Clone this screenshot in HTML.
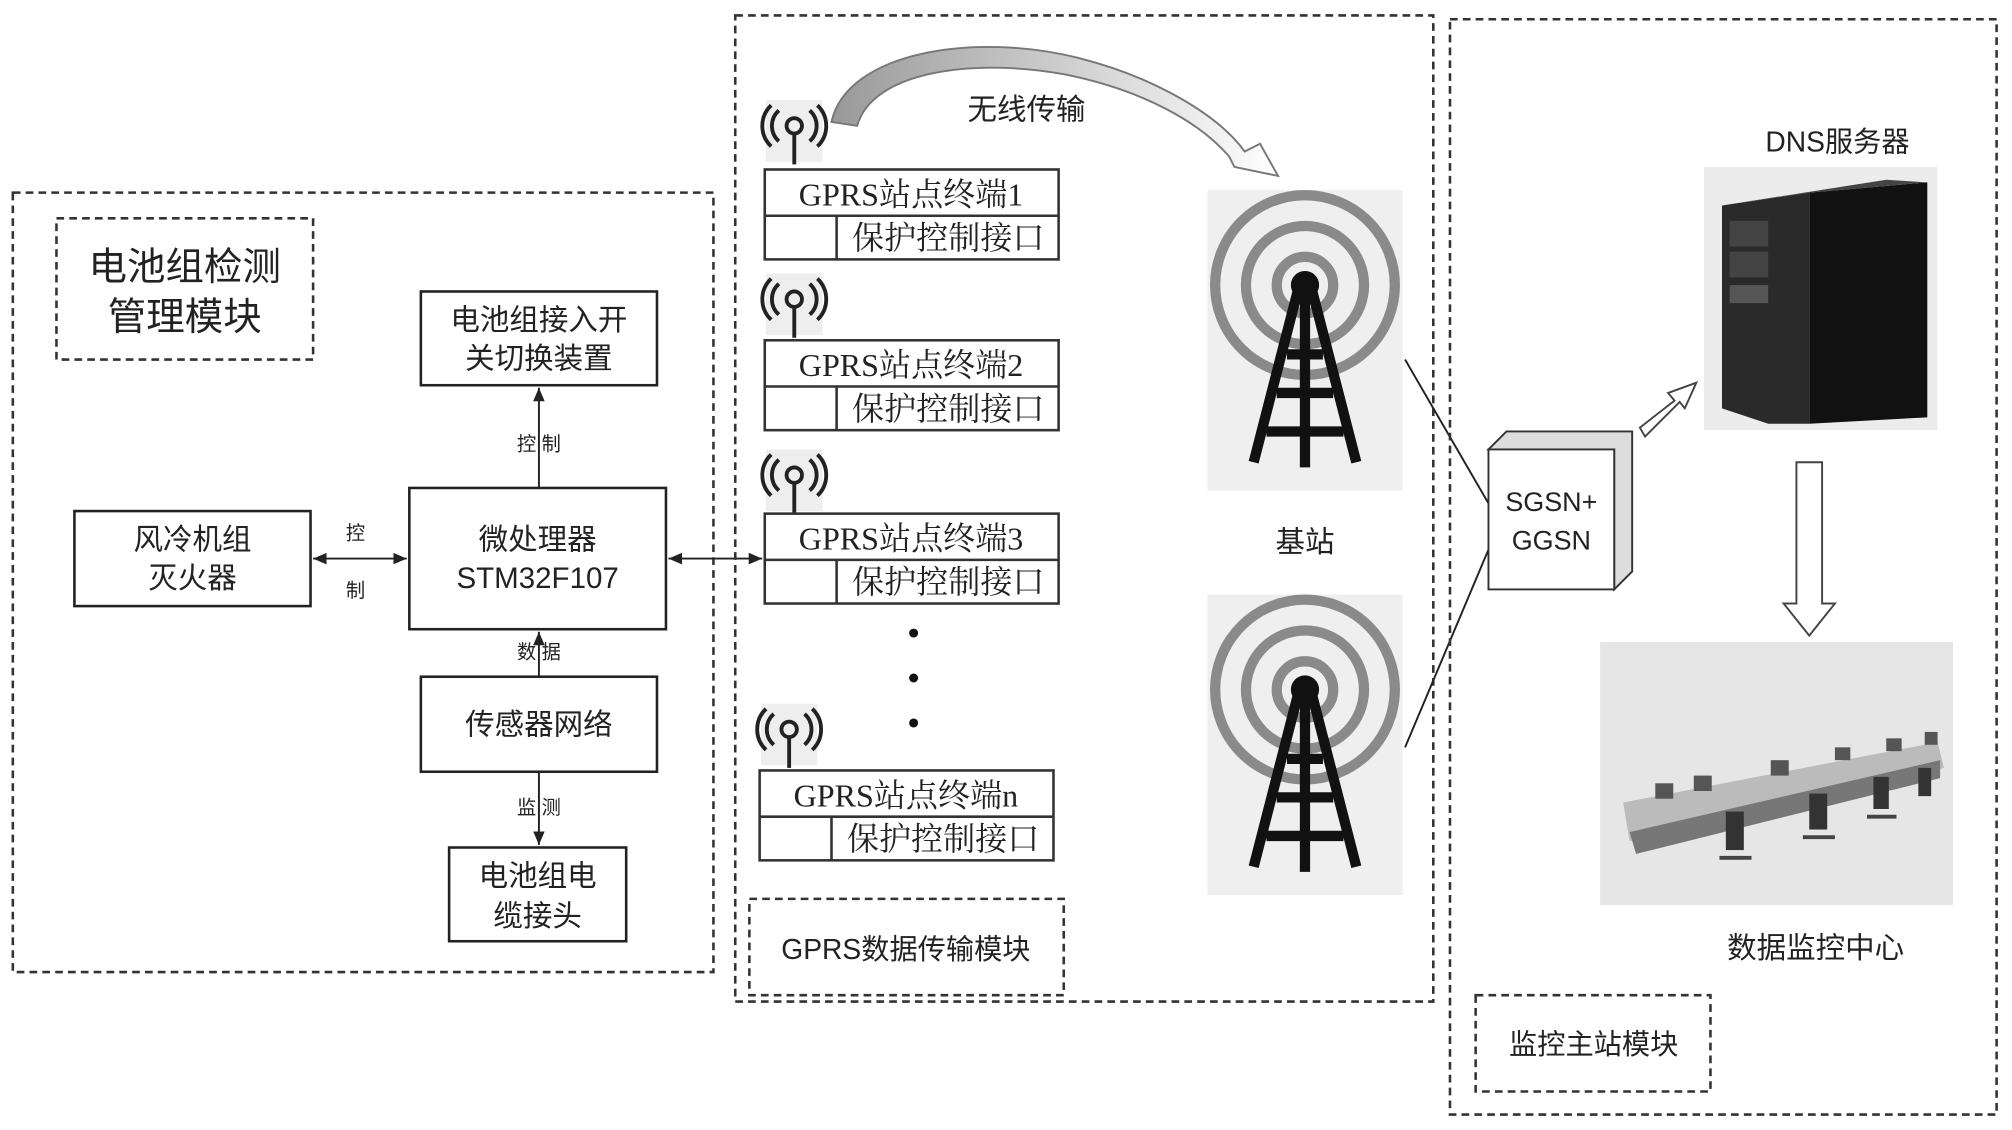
<!DOCTYPE html>
<html><head><meta charset="utf-8"><style>
html,body{margin:0;padding:0;background:#fff;}
svg{display:block;}
text{font-family:"Liberation Sans","Noto Sans CJK SC",sans-serif;fill:#222;}
.s{font-family:"Liberation Serif","Noto Serif CJK SC",serif;}
</style></head><body>
<svg width="2012" height="1130" viewBox="0 0 1568 880" preserveAspectRatio="none" xmlns="http://www.w3.org/2000/svg">
<defs>
<marker id="a" markerWidth="8" markerHeight="8" refX="7" refY="4" orient="auto-start-reverse"><path d="M0,1 L7,4 L0,7 z" fill="#222"/></marker>
<linearGradient id="g" x1="0" y1="0" x2="1" y2="0"><stop offset="0" stop-color="#999"/><stop offset="1" stop-color="#fff"/></linearGradient>
<g id="ant"><rect x="-22" y="-22" width="44" height="48" fill="#eee"/><path d="M-12,-14 a16,16 0 0,0 0,24 M-18,-18 a22,22 0 0,0 0,32 M12,-14 a16,16 0 0,1 0,24 M18,-18 a22,22 0 0,1 0,32" stroke="#222" stroke-width="3" fill="none"/><circle cx="0" cy="-2" r="6" fill="none" stroke="#222" stroke-width="3"/><line x1="0" y1="4" x2="0" y2="28" stroke="#222" stroke-width="3"/></g>
<g id="tower"><rect x="0" y="0" width="152" height="234" fill="#efefef"/>
<g fill="none" stroke="#8a8a8a" stroke-width="8"><circle cx="76" cy="74" r="22"/><circle cx="76" cy="74" r="46"/><circle cx="76" cy="74" r="70"/></g>
<circle cx="76" cy="74" r="11" fill="#111"/>
<g stroke="#111" stroke-width="8" fill="none"><path d="M70,80 L36,212 M82,80 L116,212 M76,80 L76,216"/><path d="M62,128 H90 M54,158 H98 M46,188 H106"/></g></g>
</defs>
<rect x="10" y="150" width="546" height="607" fill="none" stroke="#333" stroke-width="2" stroke-dasharray="6,4"/>
<rect x="44" y="170" width="200" height="110" fill="none" stroke="#333" stroke-width="2" stroke-dasharray="6,4"/>
<text x="144" y="218" font-size="30" text-anchor="middle">电池组检测</text>
<text x="144" y="257" font-size="30" text-anchor="middle">管理模块</text>
<g fill="#fff" stroke="#222" stroke-width="2">
<rect x="328" y="227" width="184" height="73"/><rect x="319" y="380" width="200" height="110"/>
<rect x="58" y="398" width="184" height="74"/><rect x="328" y="527" width="184" height="74"/>
<rect x="350" y="660" width="138" height="73"/></g>
<g font-size="23" text-anchor="middle">
<text x="420" y="257">电池组接入开</text><text x="420" y="287">关切换装置</text>
<text x="419" y="428">微处理器</text><text x="419" y="458">STM32F107</text>
<text x="150" y="428">风冷机组</text><text x="150" y="458">灭火器</text>
<text x="420" y="572">传感器网络</text>
<text x="419" y="690">电池组电</text><text x="419" y="721">缆接头</text></g>
<g stroke="#222" stroke-width="1.5">
<line x1="420" y1="380" x2="420" y2="302" marker-end="url(#a)"/>
<line x1="420" y1="527" x2="420" y2="492" marker-end="url(#a)"/>
<line x1="420" y1="601" x2="420" y2="658" marker-end="url(#a)"/>
<line x1="244" y1="435" x2="317" y2="435" marker-start="url(#a)" marker-end="url(#a)"/>
<line x1="521" y1="435" x2="594" y2="435" marker-start="url(#a)" marker-end="url(#a)"/></g>
<g font-size="15" text-anchor="middle"><text x="420" y="351">控 制</text><text x="420" y="513">数 据</text><text x="420" y="634">监 测</text><text x="277" y="420">控</text><text x="277" y="465">制</text></g>
<rect x="573" y="12" width="544" height="768" fill="none" stroke="#333" stroke-width="2" stroke-dasharray="6,4"/>
<path d="M648,95 C660,40 760,25 840,45 C900,60 950,90 970,118 L982,112 L996,137 L962,130 L958,122 C935,95 890,70 830,58 C760,45 680,55 668,98 Z" fill="url(#g)" stroke="#777" stroke-width="1.5"/>
<text x="800" y="93" font-size="23" text-anchor="middle">无线传输</text>
<use href="#ant" x="619" y="100"/><use href="#ant" x="619" y="235"/><use href="#ant" x="619" y="372"/><use href="#ant" x="615" y="570"/>
<g fill="none" stroke="#333" stroke-width="2">
<rect x="596" y="132" width="229" height="70"/><line x1="596" y1="168" x2="825" y2="168"/><line x1="652" y1="168" x2="652" y2="202"/>
<rect x="596" y="265" width="229" height="70"/><line x1="596" y1="301" x2="825" y2="301"/><line x1="652" y1="301" x2="652" y2="335"/>
<rect x="596" y="400" width="229" height="70"/><line x1="596" y1="436" x2="825" y2="436"/><line x1="652" y1="436" x2="652" y2="470"/>
<rect x="592" y="600" width="229" height="70"/><line x1="592" y1="636" x2="821" y2="636"/><line x1="648" y1="636" x2="648" y2="670"/></g>
<g font-size="25" text-anchor="middle">
<text class="s" x="710" y="160">GPRS站点终端1</text><text class="s" x="739" y="194">保护控制接口</text>
<text class="s" x="710" y="293">GPRS站点终端2</text><text class="s" x="739" y="327">保护控制接口</text>
<text class="s" x="710" y="428">GPRS站点终端3</text><text class="s" x="739" y="462">保护控制接口</text>
<text class="s" x="706" y="628">GPRS站点终端n</text><text class="s" x="735" y="662">保护控制接口</text></g>
<circle cx="712" cy="493" r="3.5" fill="#111"/><circle cx="712" cy="528" r="3.5" fill="#111"/><circle cx="712" cy="563" r="3.5" fill="#111"/>
<rect x="584" y="700" width="245" height="75" fill="none" stroke="#333" stroke-width="2" stroke-dasharray="6,4"/>
<text x="706" y="747" font-size="22" text-anchor="middle">GPRS数据传输模块</text>
<use href="#tower" x="941" y="148"/><use href="#tower" x="941" y="463"/>
<text x="1017" y="430" font-size="23" text-anchor="middle">基站</text>
<g stroke="#222" stroke-width="1.5"><line x1="1095" y1="280" x2="1160" y2="392"/><line x1="1095" y1="582" x2="1160" y2="428"/></g>
<rect x="1130" y="15" width="426" height="853" fill="none" stroke="#333" stroke-width="2" stroke-dasharray="6,4"/>
<path d="M1160,350 L1174,336 L1272,336 L1272,445 L1258,459 L1258,350 Z" fill="#ddd" stroke="#333" stroke-width="1.5"/>
<rect x="1160" y="350" width="98" height="109" fill="#fff" stroke="#333" stroke-width="1.5"/>
<text x="1209" y="398" font-size="21" text-anchor="middle">SGSN+</text><text x="1209" y="428" font-size="21" text-anchor="middle">GGSN</text>
<path d="M1278,333 L1305,312 L1300,306 L1322,298 L1313,318 L1309,313 L1282,340 Z" fill="#fff" stroke="#444" stroke-width="1.5"/>
<text x="1432" y="118" font-size="22" text-anchor="middle">DNS服务器</text>
<rect x="1328" y="130" width="182" height="205" fill="#ececec"/>
<path d="M1342,160 L1410,150 L1410,330 L1378,330 L1342,318 Z" fill="#2a2a2a"/>
<path d="M1410,150 L1502,142 L1502,325 L1410,330 Z" fill="#111"/>
<path d="M1342,160 L1470,140 L1502,142 L1410,150 Z" fill="#444"/>
<rect x="1348" y="172" width="30" height="20" fill="#444"/><rect x="1348" y="196" width="30" height="20" fill="#444"/><rect x="1348" y="222" width="30" height="14" fill="#555"/>
<path d="M1400,360 L1420,360 L1420,470 L1430,470 L1410,495 L1390,470 L1400,470 Z" fill="#fff" stroke="#444" stroke-width="1.5"/>
<rect x="1247" y="500" width="275" height="205" fill="#e6e6e6"/>
<path d="M1265,625 L1510,578 L1515,598 L1270,655 Z" fill="#bbb"/>
<path d="M1270,648 L1512,592 L1512,606 L1275,665 Z" fill="#777"/>
<g fill="#555"><rect x="1290" y="610" width="14" height="12"/><rect x="1320" y="604" width="14" height="12"/><rect x="1380" y="592" width="14" height="12"/><rect x="1430" y="582" width="12" height="10"/><rect x="1470" y="575" width="12" height="10"/><rect x="1500" y="570" width="10" height="10"/></g>
<g fill="#333"><rect x="1345" y="632" width="14" height="30"/><rect x="1410" y="618" width="14" height="28"/><rect x="1460" y="605" width="12" height="25"/><rect x="1495" y="598" width="10" height="22"/></g>
<g stroke="#444" stroke-width="3"><line x1="1340" y1="668" x2="1365" y2="668"/><line x1="1405" y1="652" x2="1430" y2="652"/><line x1="1455" y1="636" x2="1478" y2="636"/></g>
<text x="1415" y="746" font-size="23" text-anchor="middle">数据监控中心</text>
<rect x="1150" y="775" width="183" height="75" fill="none" stroke="#333" stroke-width="2" stroke-dasharray="6,4"/>
<text x="1242" y="821" font-size="22" text-anchor="middle">监控主站模块</text>
</svg>
</body></html>
